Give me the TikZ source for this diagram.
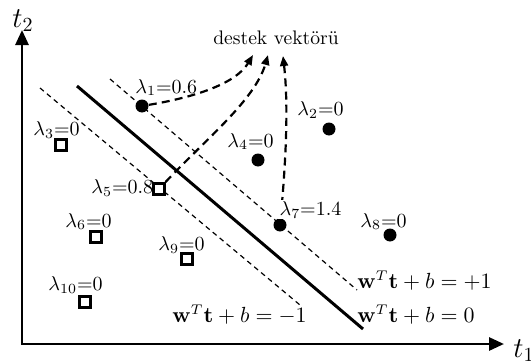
\documentclass[tikz,border=0pt]{standalone}
\usetikzlibrary{arrows.meta}
\begin{document}
\begin{tikzpicture}[x=0.5pt,y=-0.5pt,
 axis/.style={line width=1.4pt, {Triangle[length=7.5pt,width=6.5pt]}-{Triangle[length=7.5pt,width=6.5pt]}},
 sep/.style={line width=1.5pt},
 margin/.style={line width=0.6pt, dash pattern=on 2.5pt off 2pt},
 sv/.style={line width=1.1pt, dash pattern=on 4pt off 2.6pt, -{Triangle[length=5pt,width=4pt]}},
 dotpt/.style={circle, fill, inner sep=0pt, minimum size=6.5pt},
 sqpt/.style={draw, line width=1.4pt, inner sep=0pt, minimum size=5.5pt, fill=white},
 lab/.style={anchor=base west, inner sep=0pt, font=\fontsize{10}{12}\selectfont},
 eq/.style={anchor=base west, inner sep=0pt, font=\fontsize{10.5}{12}\selectfont},
]
\useasboundingbox (0,0) rectangle (531,364);
% axes
\draw[axis] (22,30) -- (22,344) -- (504,344);
\node[anchor=base west, inner sep=0pt, font=\Large] (t2) at (12,27) {$t_2$};
\node[anchor=base west, inner sep=0pt, font=\Large] (t1) at (513,357) {$t_1$};
% hyperplanes
\draw[margin] (40,88) -- (300,305);
\draw[sep] (77,86) -- (363,329);
\draw[margin] (110,79) -- (357,290);
% points
\node[dotpt] (p1) at (142,106) {};
\node[dotpt] (p2) at (329,129) {};
\node[sqpt]  (p3) at (61,145) {};
\node[dotpt] (p4) at (258,160) {};
\node[sqpt]  (p5) at (159,189) {};
\node[sqpt]  (p6) at (96,237) {};
\node[dotpt] (p7) at (280,225) {};
\node[dotpt] (p8) at (390,235) {};
\node[sqpt]  (p9) at (187,259) {};
\node[sqpt]  (p10) at (85,302) {};
% support vectors
\node[anchor=base, inner sep=0pt, font=\fontsize{9.8}{11}\selectfont] (dv) at (276,45) {destek vektörü};
\coordinate (a1) at (253,55);
\coordinate (a2) at (268,55);
\coordinate (a3) at (283,56);
\draw[sv] (p1) .. controls (190,98) and (235,85) .. (a1);
\draw[sv] (p5) .. controls (205,140) and (255,100) .. (a2);
\draw[sv] (p7) .. controls (287,150) and (288,100) .. (a3);
% labels
\node[lab] (l1) at (135,93) {$\lambda_1$=0.6};
\node[lab] (l2) at (297,115) {$\lambda_2$=0};
\node[lab] (l3) at (33,135) {$\lambda_3$=0};
\node[lab] (l4) at (227,147) {$\lambda_4$=0};
\node[lab] (l5) at (91,193) {$\lambda_5$=0.8};
\node[lab] (l6) at (65,227) {$\lambda_6$=0};
\node[lab, fill=white, inner sep=0.6pt] (l7) at (278,215) {$\lambda_7$=1.4};
\node[lab] (l8) at (360,227) {$\lambda_8$=0};
\node[lab] (l9) at (158,250) {$\lambda_9$=0};
\node[lab] (l10) at (48,290) {$\lambda_{10}$=0};
% equations
\node[eq] (e1) at (357,288) {$\mathbf{w}^T\mathbf{t}+b=+1$};
\node[eq] (e0) at (357,322) {$\mathbf{w}^T\mathbf{t}+b=0$};
\node[eq] (em) at (172,322) {$\mathbf{w}^T\mathbf{t}+b=-1$};
\end{tikzpicture}
\end{document}
